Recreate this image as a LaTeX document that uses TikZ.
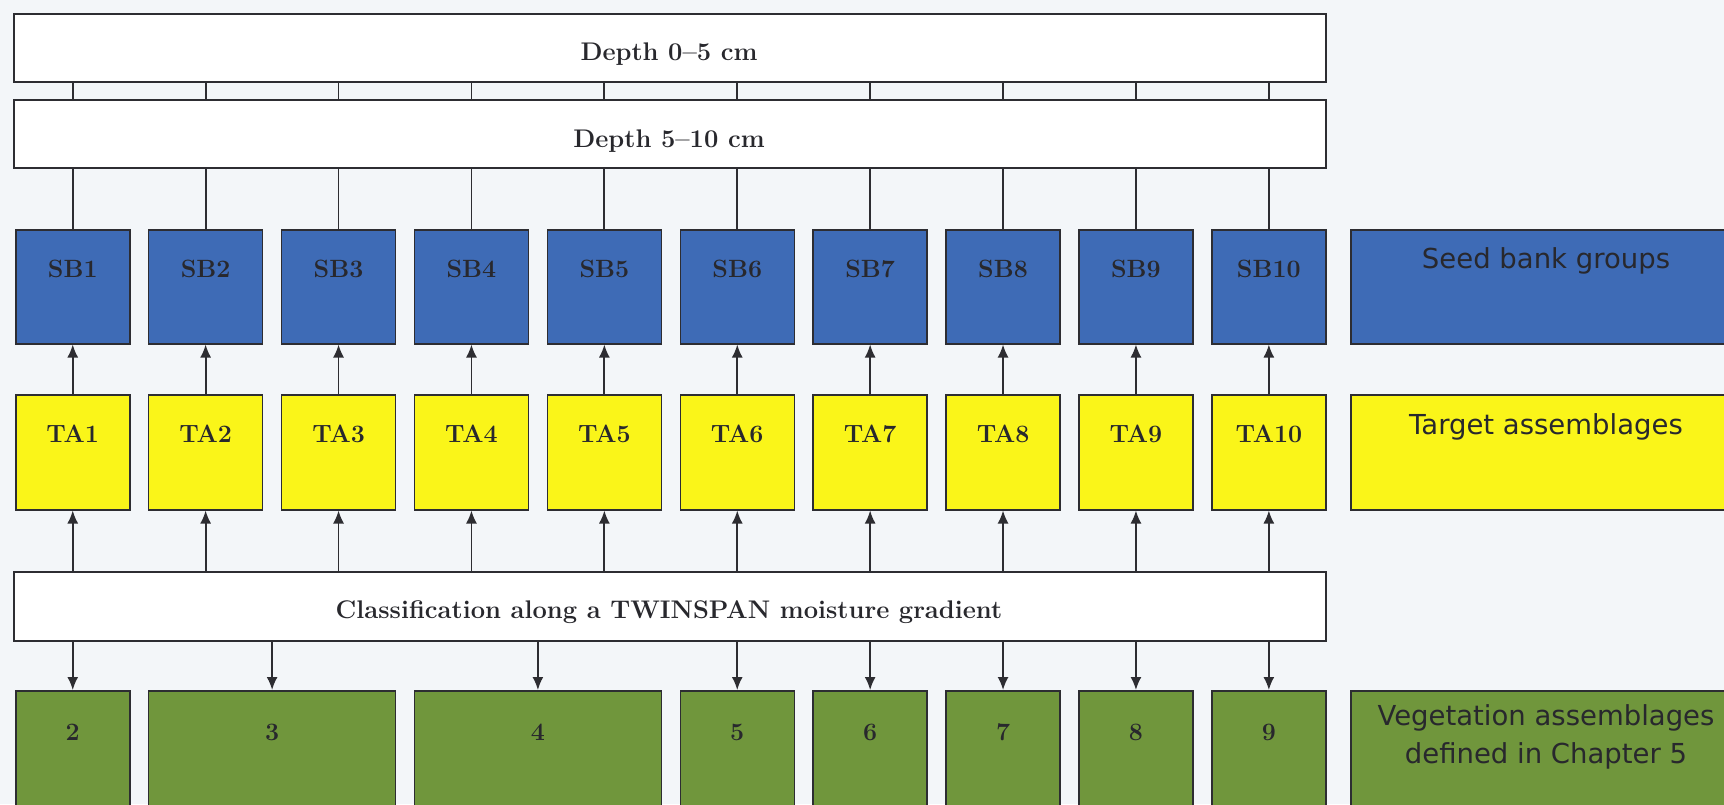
\documentclass[tikz,border=0pt]{standalone}
\usepackage{fontspec}
\newfontfamily\legfont{DejaVu Sans}
\usetikzlibrary{arrows.meta}
\definecolor{bgC}{RGB}{243,246,249}
\definecolor{lineC}{RGB}{45,45,50}
\definecolor{sbblue}{RGB}{62,107,182}
\definecolor{tayel}{RGB}{250,245,25}
\definecolor{vgreen}{RGB}{112,150,60}
\definecolor{txtC}{RGB}{40,40,45}
\begin{document}
\begin{tikzpicture}[x=1pt,y=-1pt,
  box/.style={draw=lineC, line width=1.5pt, rectangle, anchor=north west, inner sep=0pt},
  boxlbl/.style={anchor=center, yshift=-40pt, text=txtC, font=\bfseries\fontsize{25}{29}\selectfont},
  sb/.style={box, fill=sbblue, minimum width=114pt, minimum height=114pt, label={[boxlbl]north:#1}},
  ta/.style={box, fill=tayel, minimum width=114pt, minimum height=115pt, label={[boxlbl]north:#1}},
  wide/.style={box, fill=white, minimum width=1312pt, minimum height=68pt},
  widelbl/.style={text=txtC, font=\bfseries\fontsize{25.5}{29}\selectfont},
  leg/.style={box, minimum width=420pt},
  legtxt/.style={text=txtC, font=\legfont\fontsize{27.5}{38}\selectfont, align=center},
  conn/.style={draw=lineC, line width=1.8pt},
  arr/.style={conn, -{Latex[length=13pt,width=11pt]}}
]
\fill[bgC] (0,0) rectangle (1724,804);
\useasboundingbox (0,0) rectangle (1724,804);
\clip (0,0) rectangle (1724,804);

% wide boxes
\node[wide] (D1) at (13,13) {};
\node[widelbl] at (669,54) {Depth 0–5 cm};
\node[wide] (D2) at (13,99) {};
\node[widelbl] at (669,141) {Depth 5–10 cm};
\node[wide, minimum height=69pt] (CL) at (13,571) {};
\node[widelbl] at (669,612) {Classification along a TWINSPAN moisture gradient};

% columns
\foreach \i in {1,...,10}{
  \pgfmathsetmacro\xx{15+132.9*(\i-1)}
  \node[sb=SB\i] (SB\i) at (\xx,229) {};
  \node[ta=TA\i] (TA\i) at (\xx,394) {};
  \draw[conn] (SB\i.north |- D1.south) -- (SB\i.north |- D2.north);
  \draw[conn] (SB\i.north |- D2.south) -- (SB\i.north);
  \draw[arr] (TA\i.north) -- (SB\i.south);
  \draw[arr] (TA\i.south |- CL.north) -- (TA\i.south);
}

% vegetation assemblages
\node[box, fill=vgreen, minimum width=114pt, minimum height=140pt, label={[boxlbl, yshift=-2pt]north:2}] (G2) at (15,690) {};
\node[box, fill=vgreen, minimum width=246.9pt, minimum height=140pt, label={[boxlbl, yshift=-2pt]north:3}] (G3) at (147.9,690) {};
\node[box, fill=vgreen, minimum width=246.9pt, minimum height=140pt, label={[boxlbl, yshift=-2pt]north:4}] (G4) at (413.7,690) {};
\foreach \n/\c in {5/6,6/7,7/8,8/9,9/10}{
  \pgfmathsetmacro\xx{15+132.9*(\c-1)}
  \node[box, fill=vgreen, minimum width=114pt, minimum height=140pt, label={[boxlbl, yshift=-2pt]north:\n}] (G\n) at (\xx,690) {};
}
\foreach \n in {2,...,9}{
  \draw[arr] (G\n.north |- CL.south) -- (G\n.north);
}

% legend boxes
\node[leg, fill=sbblue, minimum height=114pt] (LSB) at (1350,229) {};
\node[legtxt] at (1546,261) {Seed bank groups};
\node[leg, fill=tayel, minimum height=115pt] (LTA) at (1350,394) {};
\node[legtxt] at (1546,427) {Target assemblages};
\node[leg, fill=vgreen, minimum height=140pt] (LVG) at (1350,690) {};
\node[legtxt] at (1546,737) {Vegetation assemblages\\defined in Chapter 5};
\end{tikzpicture}
\end{document}
